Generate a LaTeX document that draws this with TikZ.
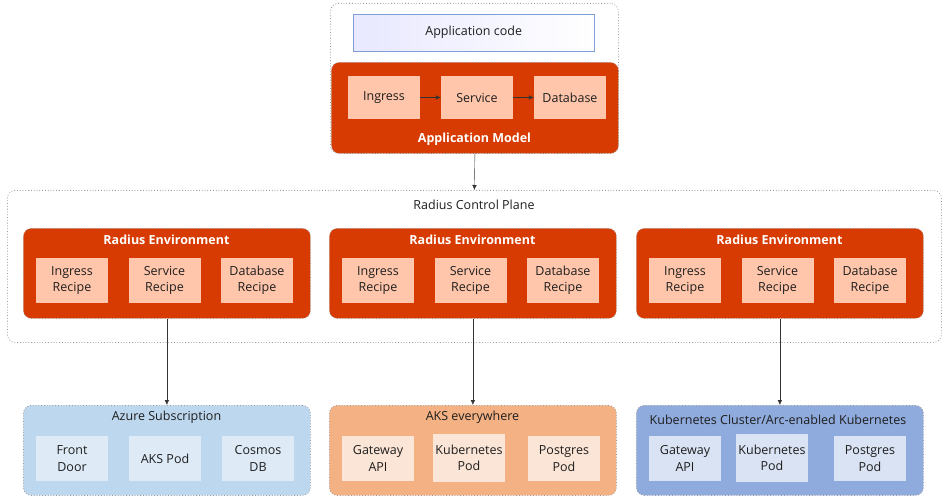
\documentclass[tikz,border=0pt]{standalone}
\usepackage{fontspec}
\setmainfont{Open Sans}
\usetikzlibrary{positioning,arrows.meta}

\definecolor{radorange}{HTML}{D83B01}
\definecolor{recipefill}{HTML}{FFC6AB}
\definecolor{azurefill}{HTML}{BDD7EE}
\definecolor{azurecell}{HTML}{DEEBF7}
\definecolor{aksfill}{HTML}{F4B183}
\definecolor{akscell}{HTML}{FBE5D6}
\definecolor{k8sfill}{HTML}{8FAADC}
\definecolor{k8scell}{HTML}{DAE3F3}
\definecolor{codeedge}{HTML}{7F9ED8}
\definecolor{txt}{HTML}{1E1E1E}

\begin{document}
\begin{tikzpicture}[x=1pt, y=-1pt,
	every node/.style={font=\fontsize{12.5}{16.5}\selectfont, text=txt, align=center},
	grp/.style={draw=gray!80, dotted, line width=0.8pt, rounded corners=8pt, inner sep=0pt, anchor=north west},
	envbox/.style={grp, fill=radorange, minimum width=287pt, minimum height=90pt},
	target/.style={grp, minimum width=287pt, minimum height=90pt},
	cell/.style={inner sep=0pt, minimum width=72pt, minimum height=45pt},
	boldlabel/.style={font=\fontsize{12.5}{16.5}\selectfont\bfseries, text=white},
	link/.style={draw=black!80, -{Latex[length=5pt,width=4.5pt]}}]
	\useasboundingbox (0,0) rectangle (945,497);
	% application side
	\node[grp, minimum width=288pt, minimum height=150pt] (appframe) at (330,3) {};
	\node[draw=codeedge, left color=blue!9, right color=white, minimum width=241pt, minimum height=37pt, anchor=north west] (code) at (353,14) {Application code};
	\node[grp, fill=radorange, minimum width=287pt, minimum height=91pt] (appmodel) at (331,62) {};
	\node[cell, fill=recipefill, minimum height=43pt] (ingress) at (384,97.5) {Ingress};
	\node[cell, fill=recipefill, minimum height=43pt] (service) at (477,97.5) {Service};
	\node[cell, fill=recipefill, minimum height=43pt] (database) at (570,97.5) {Database};
	\node[boldlabel] (modellabel) at (474.5,139) {Application Model};
	\draw[link] (ingress) -- (service);
	\draw[link] (service) -- (database);
	% control plane
	\node[grp, minimum width=934pt, minimum height=152pt] (plane) at (7,190) {};
	\node (planelabel) at (474,205) {Radius Control Plane};
	\draw[link] (appmodel.south) -- (plane.north);
	\foreach \i/\x in {1/23, 2/329, 3/636} {
		\node[envbox] (env\i) at (\x,228) {};
		\node[boldlabel] (envlabel\i) at (\x+143.5,240) {Radius Environment};
		\node[cell, fill=recipefill] (ingrecipe\i) at (\x+49,280.5) {Ingress\\Recipe};
		\node[cell, fill=recipefill] (svcrecipe\i) at (\x+141.5,280.5) {Service\\Recipe};
		\node[cell, fill=recipefill] (dbrecipe\i) at (\x+234,280.5) {Database\\Recipe};
	}
	% targets
	\node[target, fill=azurefill] (azure) at (23,405) {};
	\node (azurelabel) at (166.5,417) {Azure Subscription};
	\node[cell, fill=azurecell] (frontdoor) at (72,458.5) {Front\\Door};
	\node[cell, fill=azurecell] (akspod) at (165,458.5) {AKS Pod};
	\node[cell, fill=azurecell] (cosmos) at (258,458.5) {Cosmos\\DB};
	\node[target, fill=aksfill] (aks) at (329,405) {};
	\node (akslabel) at (472.5,417) {AKS everywhere};
	\node[cell, fill=akscell] (gateway2) at (378,458.5) {Gateway\\API};
	\node[cell, fill=akscell, minimum height=48pt] (kubepod2) at (469,458) {Kubernetes\\Pod};
	\node[cell, fill=akscell] (postgres2) at (564,458.5) {Postgres\\Pod};
	\node[target, fill=k8sfill] (k8s) at (636,405) {};
	\node (k8slabel) at (778,420) {Kubernetes Cluster/Arc-enabled Kubernetes};
	\node[cell, fill=k8scell] (gateway3) at (685,458.5) {Gateway\\API};
	\node[cell, fill=k8scell, minimum height=48pt] (kubepod3) at (772,458) {Kubernetes\\Pod};
	\node[cell, fill=k8scell] (postgres3) at (870,458.5) {Postgres\\Pod};
	\draw[link] (env1.south) -- (azure.north);
	\draw[link] (env2.south) -- (aks.north);
	\draw[link] (env3.south) -- (k8s.north);
\end{tikzpicture}
\end{document}
